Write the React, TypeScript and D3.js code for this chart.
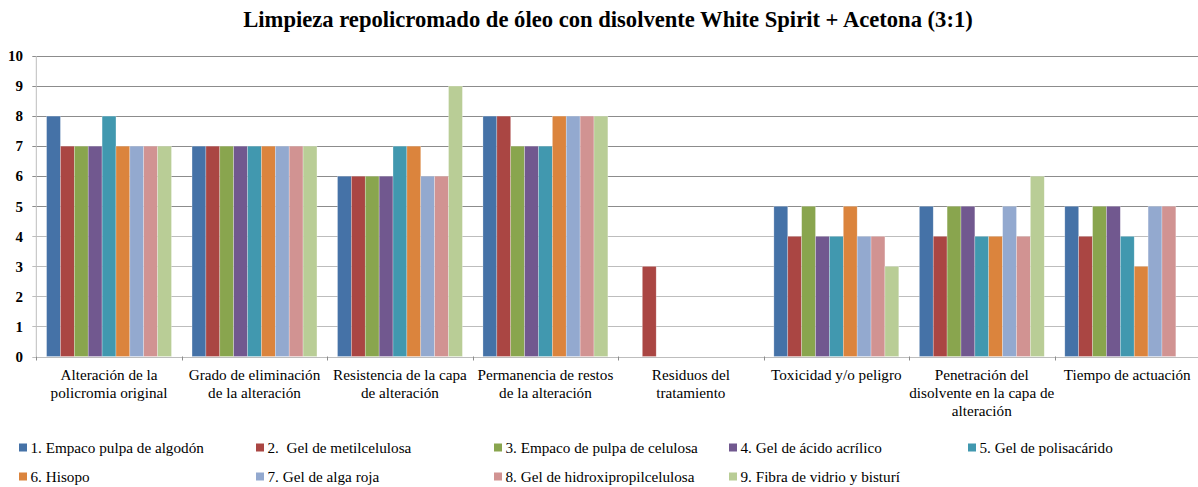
import React from "react";
import * as d3 from "d3";

const title = "Limpieza repolicromado de óleo con disolvente White Spirit + Acetona (3:1)";

const categories: string[][] = [
  ["Alteración de la", "policromia original"],
  ["Grado de eliminación", "de la alteración"],
  ["Resistencia de la capa", "de alteración"],
  ["Permanencia de restos", "de la alteración"],
  ["Residuos del", "tratamiento"],
  ["Toxicidad y/o peligro"],
  ["Penetración del", "disolvente en la capa de", "alteración"],
  ["Tiempo de actuación"],
];

const seriesNames = [
  "1. Empaco pulpa de algodón",
  "2.  Gel de metilcelulosa",
  "3. Empaco de pulpa de celulosa",
  "4. Gel de ácido acrílico",
  "5. Gel de polisacárido",
  "6. Hisopo",
  "7. Gel de alga roja",
  "8. Gel de hidroxipropilcelulosa",
  "9. Fibra de vidrio y bisturí",
];

const s1 = [8, 7, 6, 8, 0, 5, 5, 5];
const s2 = [7, 7, 6, 8, 3, 4, 4, 4];
const s3 = [7, 7, 6, 7, 0, 5, 5, 5];
const s4 = [7, 7, 6, 7, 0, 4, 5, 5];
const s5 = [8, 7, 7, 7, 0, 4, 4, 4];
const s6 = [7, 7, 7, 8, 0, 5, 4, 3];
const s7 = [7, 7, 6, 8, 0, 4, 5, 5];
const s8 = [7, 7, 6, 8, 0, 4, 4, 5];
const s9 = [7, 7, 9, 8, 0, 3, 6, 0];
const seriesValues = [s1, s2, s3, s4, s5, s6, s7, s8, s9];

const colors = [
  "#4572A7", "#AA4643", "#89A54E", "#71588F", "#4198AF",
  "#DB843D", "#93A9CF", "#D19392", "#B9CD96",
];

const yTicks = [0, 1, 2, 3, 4, 5, 6, 7, 8, 9, 10];

const W = 1198;
const H = 487;
const FONT = "Liberation Serif";

export default function App() {
  const left = 36.3;
  const right = 1200;
  const top = 56;
  const bottom = 356.5;

  const x0 = d3.scaleBand<number>().domain(d3.range(categories.length)).range([left, right]).padding(0);
  const x1 = d3
    .scaleBand<number>()
    .domain(d3.range(seriesNames.length))
    .range([0, x0.bandwidth()])
    .paddingInner(0)
    .paddingOuter(0.74);
  const y = d3.scaleLinear().domain([0, 10]).range([bottom, top]);

  const legendX = [19, 256, 494, 729, 968];
  const legendY = [448, 477];

  return (
    <svg width={W} height={H} style={{ position: "absolute", left: 0, top: 0, background: "#fff", fontFamily: "'Liberation Serif', serif" }}>
      <rect x={0} y={0} width={W} height={H} fill="#fff" />
      <text x={608} y={27} textAnchor="middle" style={{ fontFamily: FONT }} fontWeight="bold" fontSize={22.6} fill="#000">
        {title}
      </text>

      {yTicks.map((t) => (
        <g key={t}>
          <line
            x1={left - 4}
            x2={right}
            y1={Math.round(y(t)) + 0.5}
            y2={Math.round(y(t)) + 0.5}
            stroke={t >= 5 ? "#8c8c8c" : "#bdbdbd"}
            strokeWidth={1}
          />
          <text
            x={23}
            y={y(t)}
            dy="0.35em"
            textAnchor="end"
            style={{ fontFamily: FONT }}
            fontWeight="bold"
            fontSize={15}
            fill="#000"
          >
            {t}
          </text>
        </g>
      ))}
      <line x1={left} x2={left} y1={top} y2={bottom} stroke="#bdbdbd" strokeWidth={1} />

      {categories.map((_, ci) => (
        <g key={ci}>
          {seriesValues.map((vals, si) => {
            const v = vals[ci];
            if (!v) return null;
            const bx = (x0(ci) as number) + (x1(si) as number);
            return (
              <rect
                key={si}
                x={bx}
                y={y(v)}
                width={x1.bandwidth()}
                height={y(0) - y(v)}
                fill={colors[si]}
                stroke="#ffffff"
                strokeOpacity={0.45}
                strokeWidth={0.6}
              />
            );
          })}
        </g>
      ))}

      {d3.range(categories.length + 1).map((i) => {
        const xx = Math.round(left + i * x0.step()) + 0.5;
        return <line key={i} x1={xx} x2={xx} y1={bottom} y2={bottom + 4} stroke="#8c8c8c" />;
      })}

      {categories.map((lines, ci) => {
        const cx = (x0(ci) as number) + x0.bandwidth() / 2;
        return (
          <text key={ci} x={cx} y={380} textAnchor="middle" style={{ fontFamily: FONT }} fontSize={15.2} fill="#000">
            {lines.map((ln, li) => (
              <tspan key={li} x={cx} y={380 + li * 17.8}>
                {ln}
              </tspan>
            ))}
          </text>
        );
      })}

      {seriesNames.map((name, si) => {
        const row = si < 5 ? 0 : 1;
        const col = si < 5 ? si : si - 5;
        const lx = legendX[col];
        const ly = legendY[row];
        return (
          <g key={si}>
            <rect x={lx} y={ly - 4.5} width={8} height={8} fill={colors[si]} />
            <text x={lx + 11.5} y={ly} dy="0.35em" style={{ fontFamily: FONT, whiteSpace: "pre" }} fontSize={15.2} fill="#000">
              {name}
            </text>
          </g>
        );
      })}
    </svg>
  );
}
